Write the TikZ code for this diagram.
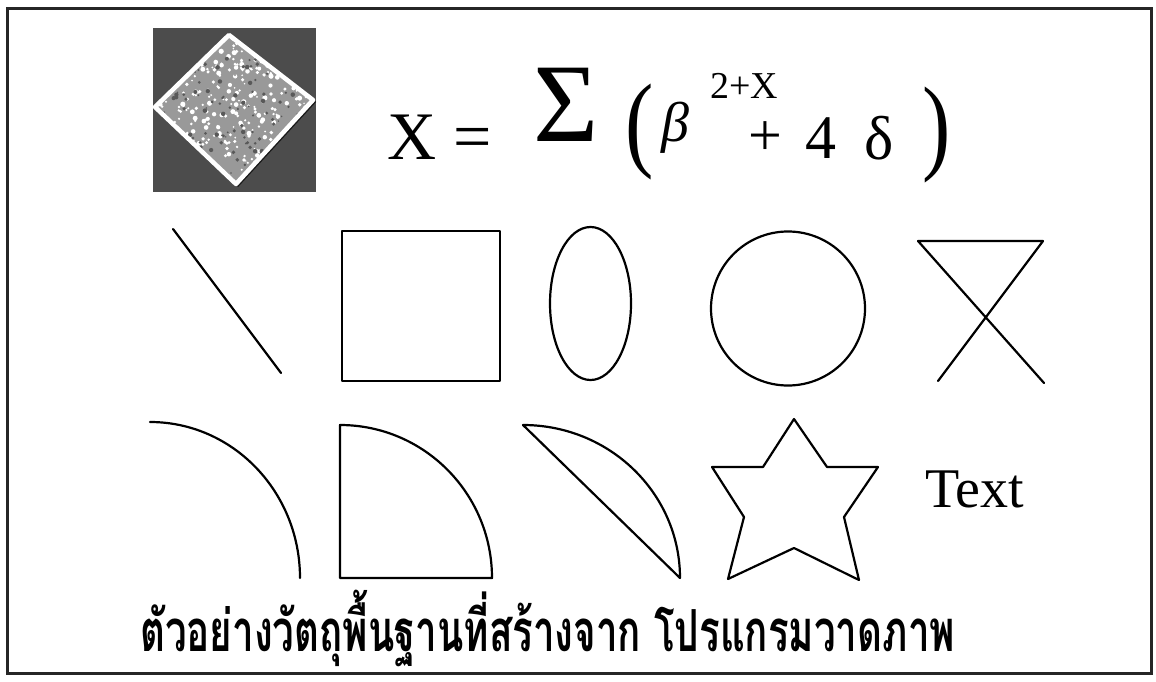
\documentclass[tikz,border=0pt]{standalone}
\usepackage{fontspec}
\setmainfont{Liberation Serif}
\newfontfamily\thaifont[Script=Thai]{Loma}
\usepackage{graphicx}
\usetikzlibrary{calc}
\tikzset{
  shape line/.style={line width=2.2pt, line join=round, line cap=round},
  txt/.style={anchor=base west, inner sep=0pt, outer sep=0pt},
}
\begin{document}
\begin{tikzpicture}[x=1pt,y=-1pt]
\useasboundingbox (0,0) rectangle (1156,682);
\fill[white] (0,0) rectangle (1156,682);
% frame
\draw[line width=3pt, black!85] (7,9) rectangle (1151,673);

% picture (top left)
\fill[black!70] (153,28) rectangle (316,192);
\coordinate (dT) at (229,35);
\coordinate (dR) at (313,100);
\coordinate (dB) at (236,184);
\coordinate (dL) at (155,107);
\fill[black!40] (dT) -- (dR) -- (dB) -- (dL) -- cycle;
\begin{scope}
  \clip (dT) -- (dR) -- (dB) -- (dL) -- cycle;
  \pgfmathsetseed{11}
  \foreach \i in {1,...,420}{
    \pgfmathsetmacro{\px}{155+158*rnd}
    \pgfmathsetmacro{\py}{35+150*rnd}
    \pgfmathsetmacro{\pr}{0.8+1.8*rnd}
    \fill[white] (\px,\py) circle[radius=\pr pt];
  }
  \pgfmathsetseed{5}
  \foreach \i in {1,...,160}{
    \pgfmathsetmacro{\px}{155+158*rnd}
    \pgfmathsetmacro{\py}{35+150*rnd}
    \pgfmathsetmacro{\pr}{0.8+1.5*rnd}
    \fill[black!65] (\px,\py) circle[radius=\pr pt];
  }
\end{scope}
\draw[black!90, line width=3pt] ($(dR)+(2,1)$) -- ($(dB)+(1,2)$);
\draw[white, line width=4.5pt, line join=round] (dT) -- (dR) -- (dB) -- (dL) -- cycle;

% formula
\node[txt, font=\fontsize{68}{68}\selectfont] (fx) at (387,159) {X =};
\node[txt, font=\fontsize{112}{112}\selectfont] (fsig) at (533,142) {Σ};
\node[inner sep=0pt, font=\fontsize{100}{100}\selectfont] (flp) at (640,132) {\scalebox{0.85}[1.06]{(}};
\node[txt, font=\fontsize{56}{56}\selectfont\itshape] (fbeta) at (661,142) {β};
\node[txt, font=\fontsize{38}{38}\selectfont] (fsup) at (710,99) {2+X};
\node[txt, font=\fontsize{60}{60}\selectfont] (fplus) at (748,156) {+};
\node[txt, font=\fontsize{62}{62}\selectfont] (ffour) at (805,158) {4};
\node[txt, font=\fontsize{62}{62}\selectfont] (fdelta) at (864,159) {δ};
\node[inner sep=0pt, font=\fontsize{100}{100}\selectfont] (frp) at (937,135) {\scalebox{0.85}[1.06]{)}};

% row 1
\draw[shape line] (173,229) -- (281,373);
\draw[shape line] (342,231) rectangle (500,381);
\draw[shape line] (590.5,303.5) ellipse [x radius=40.5pt, y radius=76.5pt];
\draw[shape line] (788,308.5) circle [radius=77pt];
\draw[shape line] (1044,383) -- (918,241) -- (1043,241) -- (938,381);

% row 2
\draw[shape line] (150,422) arc[start angle=90, end angle=0, x radius=150pt, y radius=156pt];
\draw[shape line] (340,578) -- (340,425) arc[start angle=90, end angle=0, x radius=152pt, y radius=153pt] -- cycle;
\draw[shape line] (523,425) arc[start angle=90, end angle=0, x radius=157pt, y radius=153pt] -- cycle;
\draw[shape line] (794,419) -- (827,467) -- (878,467) -- (844,517) -- (859,580) -- (794,548)
  -- (728,579) -- (744,517) -- (712,467) -- (763,467) -- cycle;
\node[txt, font=\fontsize{56}{56}\selectfont] (ttext) at (925,507) {Text};

% caption
\node[txt] (cap) at (140,651) {\resizebox{815pt}{\height}{\thaifont\bfseries\fontsize{58}{58}\selectfont ตัวอย่างวัตถุพื้นฐานที่สร้างจาก โปรแกรมวาดภาพ}};
\end{tikzpicture}
\end{document}
